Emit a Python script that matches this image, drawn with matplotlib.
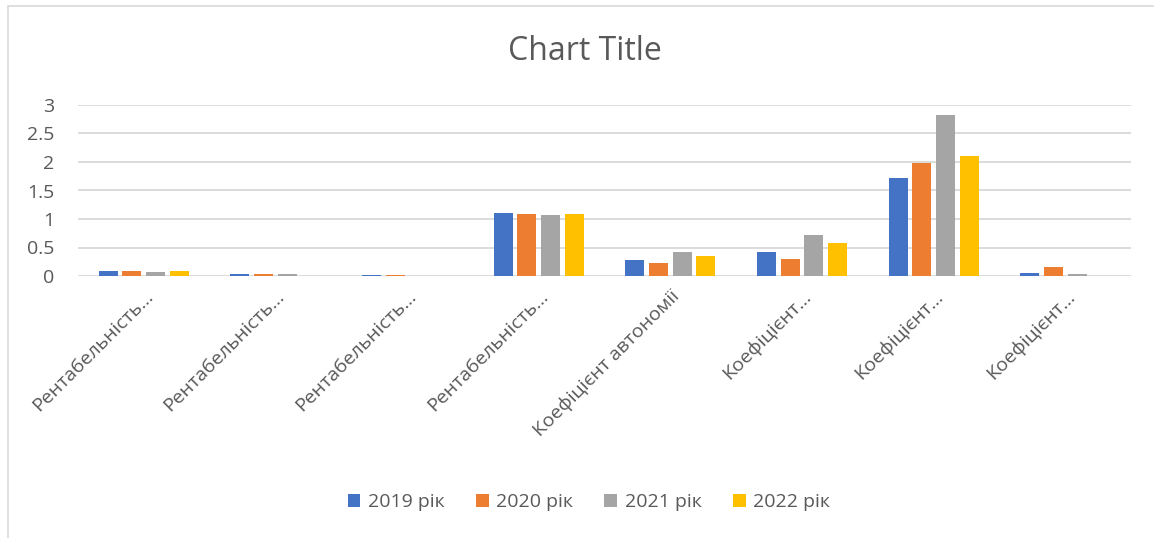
import numpy as np
import matplotlib.pyplot as plt
from matplotlib.patches import Rectangle

plt.rcParams['font.family'] = ['Open Sans', 'DejaVu Sans']

# Data
categories = ['Рентабельність…', 'Рентабельність…', 'Рентабельність…', 'Рентабельність…',
              'Коефіцієнт автономії', 'Коефіцієнт…', 'Коефіцієнт…', 'Коефіцієнт…']
series_names = ['2019 рік', '2020 рік', '2021 рік', '2022 рік']
v2019 = [0.094, 0.040, 0.010, 1.113, 0.287, 0.416, 1.722, 0.047]
v2020 = [0.082, 0.030, 0.010, 1.084, 0.228, 0.305, 1.986, 0.164]
v2021 = [0.070, 0.030, 0.005, 1.072, 0.416, 0.726, 2.818, 0.035]
v2022 = [0.082, 0.004, 0.003, 1.084, 0.357, 0.574, 2.103, 0.005]
colors = ['#4472C4', '#ED7D31', '#A5A5A5', '#FFC000']
yticks = [0, 0.5, 1, 1.5, 2, 2.5, 3]

text_color = '#595959'
grid_color = '#D9D9D9'

fig = plt.figure(figsize=(11.54, 5.38), dpi=100)
ax = fig.add_axes([78 / 1154, 1 - 276 / 538, (1131 - 78) / 1154, (276 - 105) / 538])

# chart frame (only left and top visible in the reference)
fig.patches.append(Rectangle((8 / 1154, -0.5), 2, 1.5 - 6 / 538, transform=fig.transFigure,
                             fill=False, edgecolor=grid_color, linewidth=1.2))

x = np.arange(len(categories))
step = 0.18
width = 0.144
for i, (vals, name, c) in enumerate(zip([v2019, v2020, v2021, v2022], series_names, colors)):
    ax.bar(x + (i - 1.5) * step, vals, width, color=c, label=name, zorder=3)

ax.set_xlim(-0.5, len(categories) - 0.5)
ax.set_ylim(0, 3)
ax.set_yticks(yticks)
ax.set_yticklabels([f'{t:g}' for t in yticks])
ax.yaxis.grid(True, color=grid_color, linewidth=1.3, zorder=0)
for s in ax.spines.values():
    s.set_visible(False)
ax.tick_params(axis='y', length=0, pad=17, labelsize=14, labelcolor=text_color)
ax.tick_params(axis='x', length=0, pad=8, labelsize=14, labelcolor=text_color)
ax.set_xticks(x)
ax.set_xticklabels(categories, rotation=45, ha='right', rotation_mode='anchor')

fig.text(0.5065, 1 - 51 / 538, 'Chart Title', ha='center', va='center',
         fontsize=23, color=text_color)

leg = fig.legend(loc='center', bbox_to_anchor=(589 / 1154, 1 - 502 / 538), ncol=4,
                 frameon=False, fontsize=14, handlelength=0.65, handleheight=0.65,
                 handletextpad=0.4, columnspacing=1.6)
for t in leg.get_texts():
    t.set_color(text_color)

fig.savefig('out.png', dpi=100, facecolor='white')
